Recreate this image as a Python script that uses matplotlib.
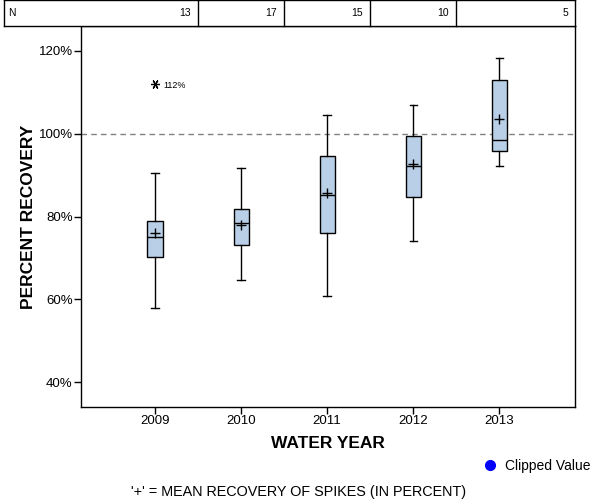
import matplotlib
matplotlib.use("Agg")
import matplotlib.pyplot as plt
from matplotlib.lines import Line2D
from matplotlib.transforms import blended_transform_factory

plt.rcParams["font.family"] = ["Liberation Sans", "DejaVu Sans"]

# ---- data ------------------------------------------------------------------
YEARS = [2009, 2010, 2011, 2012, 2013]
N_COUNT = [13, 17, 15, 10, 5]
WHISK_LO = [57.9, 64.6, 60.8, 74.1, 92.2]
Q1 = [70.2, 73.1, 76.0, 84.7, 95.9]
MEDIAN = [75.0, 78.4, 85.2, 92.2, 98.5]
Q3 = [78.9, 81.9, 94.7, 99.5, 113.0]
WHISK_HI = [90.5, 91.7, 104.6, 107.0, 118.3]
MEAN = [75.9, 78.0, 85.7, 92.6, 103.5]
OUTLIER_YEAR = [2009]
OUTLIER_VAL = [112.0]

BOX_FILL = "#b9cfe7"
INK = "black"

fig = plt.figure(figsize=(6.0, 5.0), dpi=100)
ax = fig.add_axes([81 / 600, 93 / 500, 494 / 600, 381 / 500])
tax = fig.add_axes([4 / 600, 474 / 500, 571 / 600, 26 / 500])

stats = []
for yr, lo, q1, med, q3, hi, mn in zip(YEARS, WHISK_LO, Q1, MEDIAN, Q3, WHISK_HI, MEAN):
    stats.append(dict(whislo=lo, q1=q1, med=med, q3=q3, whishi=hi, mean=mn,
                      fliers=[], label=str(yr)))

ax.bxp(stats, positions=YEARS, widths=0.175, capwidths=0.085, patch_artist=True,
       showmeans=True, manage_ticks=False,
       boxprops=dict(facecolor=BOX_FILL, edgecolor=INK, lw=1.0),
       medianprops=dict(color=INK, lw=1.0),
       whiskerprops=dict(color=INK, lw=1.0),
       capprops=dict(color=INK, lw=1.0),
       meanprops=dict(marker="+", markersize=7, markeredgecolor=INK,
                      markeredgewidth=1.0, linestyle="none"))

ax.axhline(100, color="#808080", lw=1.0, ls=(0, (4, 3)), zorder=0)

# outlier shown as asterisk with value label
ax.plot(OUTLIER_YEAR, OUTLIER_VAL, linestyle="none", marker=(6, 2, 90),
        markersize=6.5, markeredgecolor=INK, markeredgewidth=0.9)
for x, v in zip(OUTLIER_YEAR, OUTLIER_VAL):
    ax.annotate(f"{v:.0f}%", (x, v), textcoords="offset points", xytext=(6, -1),
                fontsize=6.5, va="center", ha="left")

ax.set_xlim(2008.14, 2013.88)
ax.set_ylim(34, 126)
ax.set_xticks(YEARS)
ax.set_xticklabels([str(y) for y in YEARS])
ax.set_yticks([40, 60, 80, 100, 120])
ax.set_yticklabels([f"{t}%" for t in [40, 60, 80, 100, 120]])
ax.tick_params(direction="out", length=5, width=1, labelsize=9.5, colors=INK)
ax.tick_params(axis="y", pad=1)
ax.tick_params(axis="x", pad=1)
for s in ax.spines.values():
    s.set_linewidth(1.0)
    s.set_color(INK)
ax.set_xlabel("WATER YEAR", fontsize=12.5, weight="bold", labelpad=6)
ax.set_ylabel("PERCENT RECOVERY", fontsize=12.5, weight="bold", labelpad=2)

# ---- N table across the top ---------------------------------------------------
tax.set_xticks([])
tax.set_yticks([])
for s in tax.spines.values():
    s.set_linewidth(1.0)
tr = blended_transform_factory(ax.transData, tax.transAxes)
for a, b in zip(YEARS[:-1], YEARS[1:]):
    tax.plot([(a + b) / 2] * 2, [0, 1], color=INK, lw=1.0, transform=tr, clip_on=False)
bounds = [(a + b) / 2 for a, b in zip(YEARS[:-1], YEARS[1:])] + [2013.88]
for right, n in zip(bounds, N_COUNT):
    tax.annotate(str(n), (right, 0.5), xycoords=tr, textcoords="offset points",
                 xytext=(-5, 0), ha="right", va="center", fontsize=7.5)
tax.text(0.008, 0.5, "N", transform=tax.transAxes, ha="left", va="center", fontsize=7.5)

# ---- legend and footnote --------------------------------------------------
handle = Line2D([], [], linestyle="none", marker="o", markersize=7,
                markerfacecolor="#0000ff", markeredgecolor="#0000ff")
fig.legend([handle], ["Clipped Value"], loc="center left",
           bbox_to_anchor=(477 / 600, 1 - 466 / 500), frameon=False,
           handlelength=1.0, handletextpad=0.6, fontsize=10, borderaxespad=0)
fig.text(299 / 600, 1 - 492 / 500, "'+' = MEAN RECOVERY OF SPIKES (IN PERCENT)",
         ha="center", va="center", fontsize=10.4)

fig.savefig("out.png", dpi=100, facecolor="white")
